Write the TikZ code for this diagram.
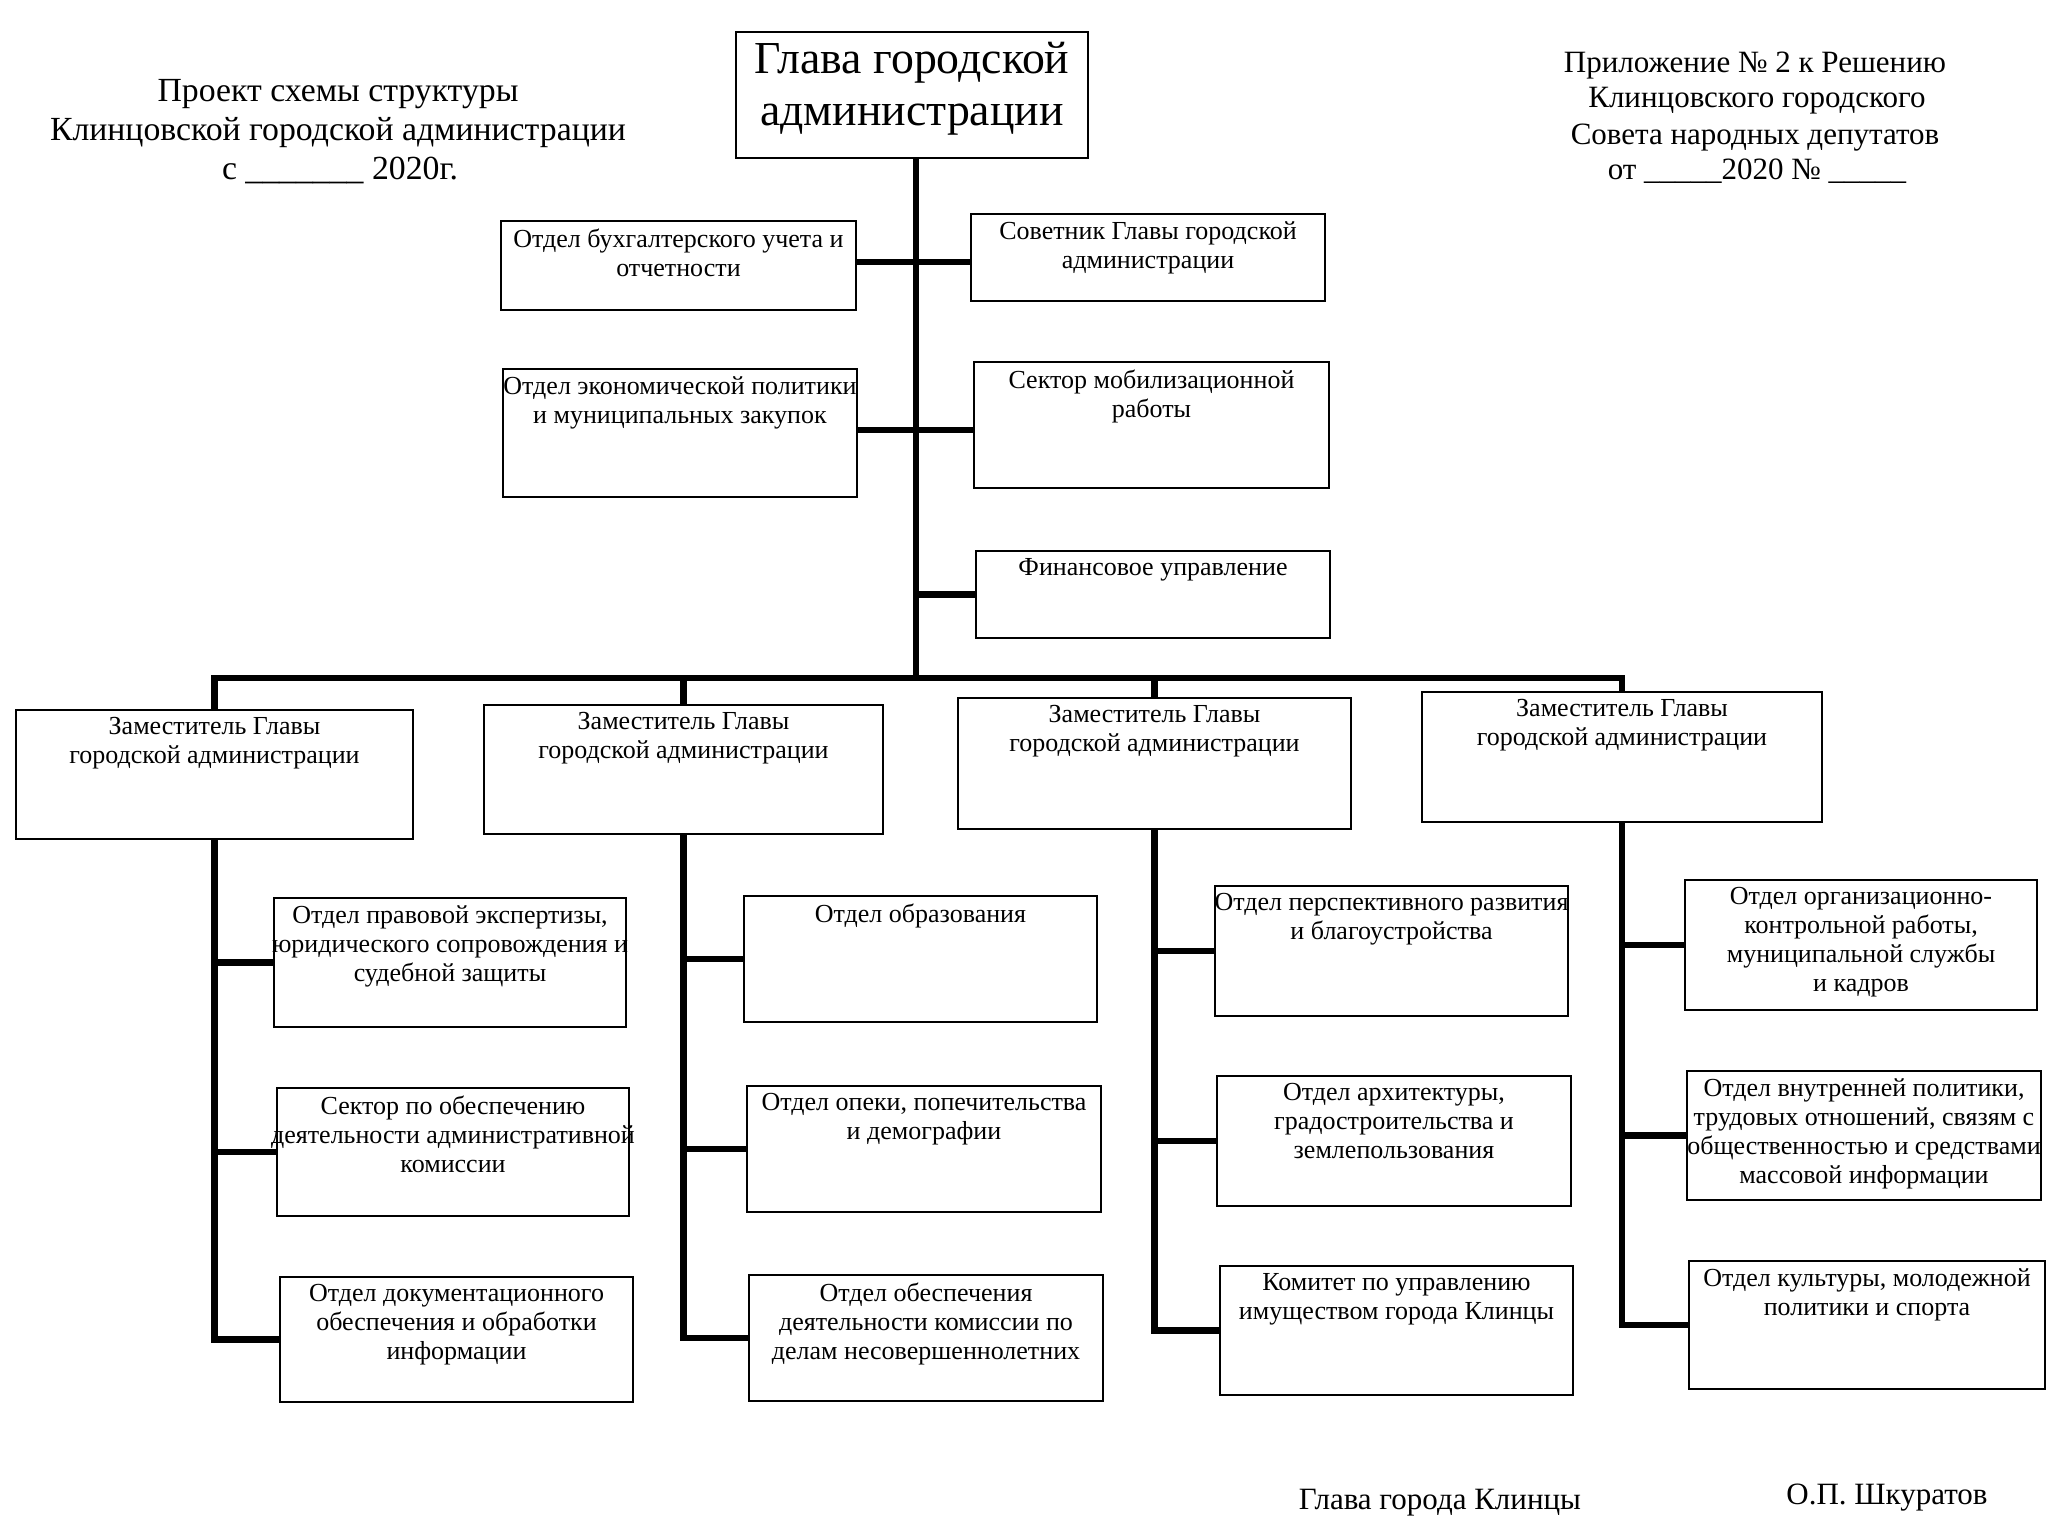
\documentclass[tikz,border=0pt]{standalone}
\usepackage{fontspec}
\setmainfont{Liberation Serif}
\newcommand\fsm{\fontsize{10.4pt}{11.6pt}\selectfont}
\newcommand\fti{\fontsize{12.4pt}{15pt}\selectfont}
\newcommand\ftl{\fontsize{13.5pt}{16pt}\selectfont}
\newcommand\fgl{\fontsize{18.3pt}{20.8pt}\selectfont}
\newcommand\mkbox[6]{%
  \node[obox, minimum width={(#4-#2)*0.4pt}, minimum height={(#5-#3)*0.4pt}] (#1) at ({(#2+#4)/2},{(#3+#5)/2}) {};
  \node[otext, anchor=north] (#1t) at ([yshift=-3.3pt]#1.north) {#6};}
\begin{document}
\begin{tikzpicture}[x=0.4pt,y=-0.4pt,
  obox/.style={draw, line width=1pt, rectangle, inner sep=0pt},
  otext/.style={inner sep=0pt, align=center, font=\fsm},
  ttl/.style={inner sep=0pt, anchor=base, font=\fti},
  conn/.style={line width=2.6pt}]
\useasboundingbox[fill=white] (0,0) rectangle (2055,1523);

% titles
\node[ttl, font=\ftl] (tl1) at (338,102) {Проект схемы структуры};
\node[ttl, font=\ftl] (tl2) at (338,141) {Клинцовской городской администрации};
\node[ttl, font=\ftl] (tl3) at (340,180) {с \_\_\_\_\_\_\_ 2020г.};
\node[ttl] (tr1) at (1755,73) {Приложение № 2 к Решению};
\node[ttl] (tr2) at (1757,108) {Клинцовского городского};
\node[ttl] (tr3) at (1755,145) {Совета народных депутатов};
\node[ttl] (tr4) at (1757,180) {от \_\_\_\_\_2020 № \_\_\_\_\_};
\node[ttl] (sg1) at (1440,1509) {Глава города Клинцы};
\node[ttl] (sg2) at (1887,1504) {О.П. Шкуратов};

% head
\node[obox, minimum width={352*0.4pt}, minimum height={126*0.4pt}] (glava) at (912,95) {};
\node[inner sep=0pt, align=center, font=\fgl] (glavat) at ([yshift=2.5pt]glava.center) {Глава городской\\администрации};

\mkbox{buh}{501}{221}{856}{310}{Отдел бухгалтерского учета и\\отчетности}
\mkbox{econ}{503}{369}{857}{497}{Отдел экономической политики\\и муниципальных закупок}
\mkbox{sov}{971}{214}{1325}{301}{Советник Главы городской\\администрации}
\mkbox{mob}{974}{362}{1329}{488}{Сектор мобилизационной\\работы}
\mkbox{fin}{976}{551}{1330}{638}{Финансовое управление}

\mkbox{zamA}{16}{710}{413}{839}{Заместитель Главы\\городской администрации}
\mkbox{zamB}{484}{705}{883}{834}{Заместитель Главы\\городской администрации}
\mkbox{zamC}{958}{698}{1351}{829}{Заместитель Главы\\городской администрации}
\mkbox{zamD}{1422}{692}{1822}{822}{Заместитель Главы\\городской администрации}

\mkbox{aA}{274}{898}{626}{1027}{Отдел правовой экспертизы,\\юридического сопровождения и\\судебной защиты}
\mkbox{aB}{277}{1088}{629}{1216}{Сектор по обеспечению\\деятельности административной\\комиссии}
\mkbox{aC}{280}{1277}{633}{1402}{Отдел документационного\\обеспечения и обработки\\информации}

\mkbox{bA}{744}{896}{1097}{1022}{Отдел образования}
\mkbox{bB}{747}{1086}{1101}{1212}{Отдел опеки, попечительства\\и демографии}
\mkbox{bC}{749}{1275}{1103}{1401}{Отдел обеспечения\\деятельности комиссии по\\делам несовершеннолетних}

\mkbox{cA}{1215}{886}{1568}{1016}{Отдел перспективного развития\\и благоустройства}
\mkbox{cB}{1217}{1076}{1571}{1206}{Отдел архитектуры,\\градостроительства и\\землепользования}
\mkbox{cC}{1220}{1266}{1573}{1395}{Комитет по управлению\\имуществом города Клинцы}

\mkbox{dA}{1685}{880}{2037}{1010}{Отдел организационно-\\контрольной работы,\\муниципальной службы\\и кадров}
\mkbox{dB}{1687}{1071}{2041}{1200}{Отдел внутренней политики,\\трудовых отношений, связям с\\общественностью и средствами\\массовой информации}
\mkbox{dC}{1689}{1261}{2045}{1389}{Отдел культуры, молодежной\\политики и спорта}

% connectors
\coordinate (yA) at (916,262);
\coordinate (yB) at (916,430);
\coordinate (ybar) at (916,678);
\draw[conn] (glava.south -| ybar) -- (ybar);
\draw[conn] (buh.east |- yA) -- (sov.west |- yA);
\draw[conn] (econ.east |- yB) -- (mob.west |- yB);
\draw[conn] (ybar |- fin.west) -- (fin.west);
\draw[conn] (zamA.north) -- (zamA.north |- ybar) -- (zamD.north |- ybar) -- (zamD.north);
\draw[conn] (zamB.north) -- (zamB.north |- ybar);
\draw[conn] (zamC.north) -- (zamC.north |- ybar);

\draw[conn] (zamA.south) |- (aC.west);
\draw[conn] (zamA.south |- aA.west) -- (aA.west);
\draw[conn] (zamA.south |- aB.west) -- (aB.west);
\draw[conn] (zamB.south) |- (bC.west);
\draw[conn] (zamB.south |- bA.west) -- (bA.west);
\draw[conn] (zamB.south |- bB.west) -- (bB.west);
\draw[conn] (zamC.south) |- (cC.west);
\draw[conn] (zamC.south |- cA.west) -- (cA.west);
\draw[conn] (zamC.south |- cB.west) -- (cB.west);
\draw[conn] (zamD.south) |- (dC.west);
\draw[conn] (zamD.south |- dA.west) -- (dA.west);
\draw[conn] (zamD.south |- dB.west) -- (dB.west);
\end{tikzpicture}
\end{document}
